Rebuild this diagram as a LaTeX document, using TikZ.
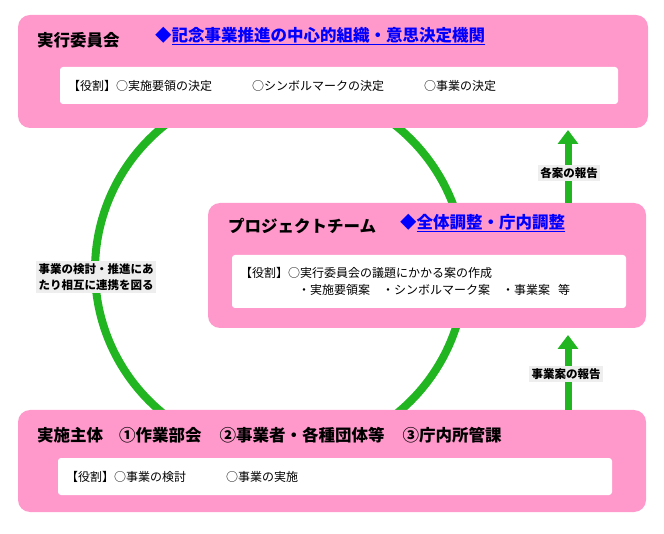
\documentclass[tikz,border=0pt]{standalone}
\usepackage{fontspec}
\setmainfont{Noto Sans CJK JP}
\usetikzlibrary{arrows.meta}
\definecolor{pinkbox}{HTML}{FF99CC}
\definecolor{grn}{HTML}{22B522}
\definecolor{blu}{HTML}{0000FF}
\definecolor{lab}{HTML}{EEEEEE}
\tikzset{
 x=1pt,y=-1pt,
 outer/.style={fill=pinkbox,draw=none,rounded corners=12pt},
 inner/.style={fill=white,draw=none,rounded corners=3pt},
 ttl/.style={anchor=west,font=\fontsize{16.5}{18}\selectfont\bfseries,inner sep=0},
 sub/.style={anchor=west,font=\fontsize{16.5}{18}\selectfont\bfseries,text=blu,inner sep=0},
 body/.style={anchor=west,font=\fontsize{12}{17}\selectfont,inner sep=0,align=left},
 lbl/.style={fill=lab,font=\fontsize{11.5}{16}\selectfont\bfseries,inner sep=2.5pt,align=left},
 up/.style={draw=grn,line width=7pt,-{Triangle[width=20pt,length=14pt]}}
}
\begin{document}
\begin{tikzpicture}
\useasboundingbox (0,0) rectangle (664,534);
\draw[grn,line width=8pt] (280,270) circle[radius=185];
\fill[outer] (18,15) rectangle (648,128);
\fill[inner] (60,67) rectangle (618,104);
\node[ttl] (t1) at (37,40) {実行委員会};
\node[sub] (s1) at (155,36) {◆\underline{記念事業推進の中心的組織・意思決定機関}};
\node[body] (b1) at (68,86) {【役割】○実施要領の決定\hspace{40pt}○シンボルマークの決定\hspace{40pt}○事業の決定};
\fill[outer] (208,203) rectangle (646,328);
\fill[inner] (232,255) rectangle (626,308);
\node[ttl] (t2) at (228,226) {プロジェクトチーム};
\node[sub] (s2) at (400,223) {◆\underline{全体調整・庁内調整}};
\node[body] (b2) at (240,281) {【役割】○実行委員会の議題にかかる案の作成\\\hspace{58pt}・実施要領案\hspace{12pt}・シンボルマーク案\hspace{12pt}・事業案\hspace{8pt}等};
\fill[outer] (18,410) rectangle (646,512);
\fill[inner] (58,458) rectangle (612,495);
\node[ttl] (t3) at (37,435) {実施主体\hspace{16pt}①作業部会\hspace{18pt}②事業者・各種団体等\hspace{18pt}③庁内所管課};
\node[body] (b3) at (66,477) {【役割】○事業の検討\hspace{40pt}○事業の実施};
\coordinate (a1s) at (568,203); \coordinate (a1e) at (568,130);
\coordinate (a2s) at (568,410); \coordinate (a2e) at (568,335);
\draw[up] (a1s) -- (a1e);
\draw[up] (a2s) -- (a2e);
\node[lbl] (l1) at (569,173) {各案の報告};
\node[lbl] (l2) at (566,374) {事業案の報告};
\node[lbl] (l3) at (96,277) {事業の検討・推進にあ\\たり相互に連携を図る};
\end{tikzpicture}
\end{document}
